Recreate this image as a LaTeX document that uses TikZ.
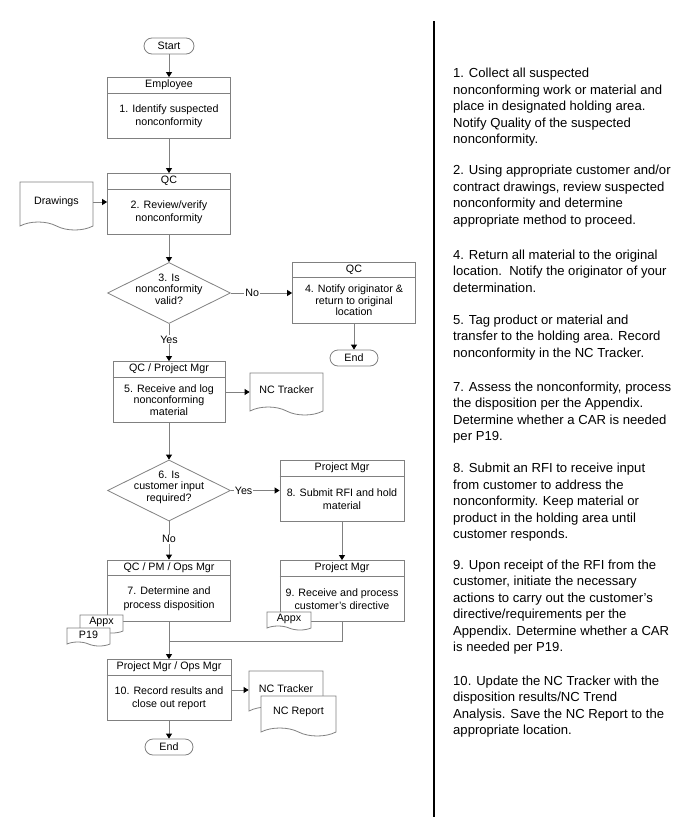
\documentclass[tikz,border=0pt]{standalone}
\usepackage{fontspec}
\setmainfont{Liberation Sans}
\usetikzlibrary{arrows.meta}
\usetikzlibrary{shapes.geometric}
\usetikzlibrary{shapes.symbols}

% process box with a header strip: [body style]{name}{position}{width}{header}{body}
\newcommand{\procbox}[6][]{%
  \node[step box, minimum width=#4] (#2) at #3 {};
  \draw[gray, line width=0.8pt] ([yshift=-16pt]#2.north west) -- ([yshift=-16pt]#2.north east);
  \node[box text] at ([yshift=-8pt]#2.north) {#5};
  \node[box text, #1] at ([yshift=-8pt]#2.center) {#6};
}

\begin{document}
\begin{tikzpicture}[
            x=1pt, y=-1pt,
            box text/.style={font=\fontsize{10.7}{13.5}\selectfont, align=center, inner sep=0},
            three lines/.style={font=\fontsize{10.7}{11.5}\selectfont},
            step box/.style={rectangle, draw=gray, line width=0.8pt, minimum height=61pt, inner sep=0},
            decision/.style={diamond, draw=gray, line width=0.8pt, minimum width=123pt, minimum height=61pt, inner sep=0},
            terminal/.style={rectangle, rounded corners=8pt, draw=gray, line width=0.8pt, minimum width=48pt, minimum height=16pt, inner sep=0, font=\fontsize{10.7}{12}\selectfont},
            doc/.style={tape, tape bend top=none, tape bend bottom=out and in, tape bend height=8pt, draw=gray, line width=0.8pt, fill=white, inner sep=0, font=\fontsize{10.7}{12}\selectfont},
            flow/.style={draw=gray, line width=0.8pt, -{Triangle[length=5pt, width=6pt, color=black]}},
            on line/.style={fill=white, inner sep=1pt, font=\fontsize{10.7}{12}\selectfont},
            note/.style={anchor=base west, align=left, inner sep=0, font=\fontsize{13.1}{16.5}\selectfont},
            ]
            \useasboundingbox (0,0) rectangle (700,838);

            % left column: the flow
            \node[terminal, minimum width=50pt] (start) at (169,46) {Start};
            \procbox{b1}{(169,108)}{123pt}{Employee}{1. Identify suspected\\nonconformity}
            \procbox{b2}{(169,204)}{123pt}{QC}{2. Review/verify\\nonconformity}
            \node[doc, minimum width=73pt, minimum height=48pt] (drw) at (56.5,202) {Drawings};
            \node[decision] (d3) at (169,293) {};
            \node[box text, three lines] at ([yshift=4pt]d3.center) {3. Is\\nonconformity\\valid?};
            \procbox[three lines]{b4}{(354,292.5)}{123pt}{QC}{4. Notify originator \&\\return to original\\location}
            \node[terminal] (end1) at (354,358) {End};
            \procbox[three lines]{b5}{(169,392)}{112pt}{QC / Project Mgr}{5. Receive and log\\nonconforming\\material}
            \node[doc, minimum width=73pt, minimum height=42pt] (nct1) at (286.5,390) {NC Tracker};
            \node[decision] (d6) at (169,490.5) {};
            \node[box text, three lines] at ([yshift=3.5pt]d6.center) {6. Is\\customer input\\required?};
            \procbox{b8}{(342,491)}{124pt}{Project Mgr}{8. Submit RFI and hold\\material}
            \procbox{b7}{(169,590.5)}{123pt}{QC / PM / Ops Mgr}{7. Determine and\\process disposition}
            \procbox{b9}{(342,591)}{124pt}{Project Mgr}{9. Receive and process\\customer's directive}
            \node[doc, minimum width=43pt, minimum height=18pt, tape bend height=4pt] (appx1) at (101.5,622) {Appx};
            \node[doc, minimum width=43pt, minimum height=18pt, tape bend height=4pt] (p19) at (88.5,635) {P19};
            \node[doc, minimum width=44pt, minimum height=18pt, tape bend height=4pt] (appx2) at (289,619) {Appx};
            \coordinate (m) at (169,641.5);
            \procbox{b10}{(169,690)}{124pt}{Project Mgr / Ops Mgr}{10. Record results and\\close out report}
            \node[doc, minimum width=74pt, minimum height=44pt] (nct2) at (286,689) {NC Tracker};
            \node[doc, minimum width=75pt, minimum height=40pt] (ncr) at (298.5,712) {NC Report};
            \node[terminal] (end2) at (169,747) {End};

            % connectors
            \draw[flow] (start) -- (b1);
            \draw[flow] (b1) -- (b2);
            \draw[flow] (drw.east) -- (drw.east -| b2.west);
            \draw[flow] (b2) -- (d3);
            \draw[flow] (d3.east) -- node[on line, pos=0.35] {No} (d3.east -| b4.west);
            \draw[flow] (b4) -- (end1);
            \draw[flow] (d3) -- node[on line, pos=0.42] {Yes} (b5);
            \draw[flow] (b5.east) -- (b5.east -| nct1.west);
            \draw[flow] (b5) -- (d6);
            \draw[flow] (d6.east) -- node[on line, pos=0.26] {Yes} (d6.east -| b8.west);
            \draw[flow] (d6) -- node[on line, pos=0.47] {No} (b7);
            \draw[flow] (b8) -- (b9);
            \draw[flow] (b7) -- (b10);
            \draw[draw=gray, line width=0.8pt] (b9.south) |- (m);
            \draw[flow] (b10.east) -- (b10.east -| nct2.west);
            \draw[flow] (b10) -- (end2);

            % divider
            \draw[line width=1.2pt] (434,21) -- (434,817);

            % right column: the notes (base = last line)
            \node[note] (t1) at (453,143.5) {1. Collect all suspected\\nonconforming work or material and\\place in designated holding area.\\Notify Quality of the suspected\\nonconformity.};
            \node[note] (t2) at (453,224) {2. Using appropriate customer and/or\\contract drawings, review suspected\\nonconformity and determine\\appropriate method to proceed.};
            \node[note] (t4) at (453,292) {4. Return all material to the original\\location.\ \ Notify the originator of your\\determination.};
            \node[note] (t5) at (453,357.3) {5. Tag product or material and\\transfer to the holding area. Record\\nonconformity in the NC Tracker.};
            \node[note] (t7) at (453,440.5) {7. Assess the nonconformity, process\\the disposition per the Appendix.\\Determine whether a CAR is needed\\per P19.};
            \node[note] (t8) at (453,538.7) {8. Submit an RFI to receive input\\from customer to address the\\nonconformity. Keep material or\\product in the holding area until\\customer responds.};
            \node[note] (t9) at (453,651.8) {9. Upon receipt of the RFI from the\\customer, initiate the necessary\\actions to carry out the customer’s\\directive/requirements per the\\Appendix. Determine whether a CAR\\is needed per P19.};
            \node[note] (t10) at (453,734.5) {10. Update the NC Tracker with the\\disposition results/NC Trend\\Analysis. Save the NC Report to the\\appropriate location.};
        \end{tikzpicture}
\end{document}
